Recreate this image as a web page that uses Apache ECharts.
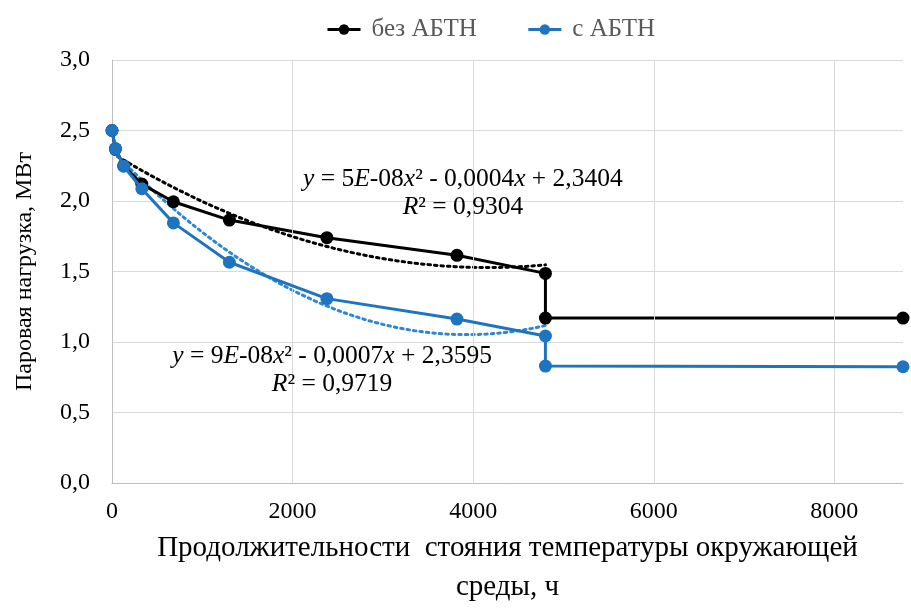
<!DOCTYPE html>
<html>
<head>
<meta charset="utf-8">
<script src="https://cdn.jsdelivr.net/npm/echarts@6/dist/echarts.min.js"></script>
<style>
html,body{margin:0;padding:0;background:#fff;}
#chart{width:911px;height:612px;}
</style>
</head>
<body>
<div id="chart"></div>
<script>
// ---- data ----
const seriesNames = ['без АБТН', 'с АБТН'];
const hoursBlack = [0, 38, 130, 330, 680, 1300, 2380, 3820, 4800, 4800, 8760];
const loadBlack  = [2.50, 2.37, 2.25, 2.12, 1.995, 1.865, 1.74, 1.615, 1.487, 1.17, 1.17];
const hoursBlue  = [0, 38, 130, 330, 680, 1300, 2380, 3820, 4800, 4800, 8760];
const loadBlue   = [2.50, 2.37, 2.247, 2.087, 1.845, 1.566, 1.308, 1.163, 1.043, 0.83, 0.825];
const trendFitCount = [9, 9]; // number of leading points used in each trend fit (before the step)
const yTicks = [0, 0.5, 1.0, 1.5, 2.0, 2.5, 3.0];
const xTicks = [0, 2000, 4000, 6000, 8000];
const xMax = 8760;
const eqBlack = ['y = 5E-08x² - 0,0004x + 2,3404', 'R² = 0,9304'];
const eqBlue  = ['y = 9E-08x² - 0,0007x + 2,3595', 'R² = 0,9719'];

// least-squares quadratic fit (as the spreadsheet trendline does)
function quadFit(xs, ys) {
  let S = [0,0,0,0,0], T = [0,0,0];
  for (let i = 0; i < xs.length; i++) {
    let p = 1;
    for (let k = 0; k < 5; k++) { S[k] += p; p *= xs[i]; }
    T[0] += ys[i]; T[1] += ys[i]*xs[i]; T[2] += ys[i]*xs[i]*xs[i];
  }
  const A = [[S[0],S[1],S[2],T[0]],[S[1],S[2],S[3],T[1]],[S[2],S[3],S[4],T[2]]];
  for (let c = 0; c < 3; c++) {
    for (let r = c+1; r < 3; r++) {
      const f = A[r][c]/A[c][c];
      for (let k = c; k < 4; k++) A[r][k] -= f*A[c][k];
    }
  }
  const s = [0,0,0];
  for (let r = 2; r >= 0; r--) {
    let v = A[r][3];
    for (let k = r+1; k < 3; k++) v -= A[r][k]*s[k];
    s[r] = v/A[r][r];
  }
  return s; // a0 + a1 x + a2 x^2
}
function trendData(xs, ys, n) {
  const cx = xs.slice(0, n), cy = ys.slice(0, n);
  const c = quadFit(cx, cy);
  const x0 = 0, x1 = cx[cx.length-1];
  const out = [];
  for (let i = 0; i <= 96; i++) {
    const x = x0 + (x1 - x0)*i/96;
    out.push([x, c[0] + c[1]*x + c[2]*x*x]);
  }
  return out;
}
const zip = (a, b) => a.map((v, i) => [v, b[i]]);

const BLACK = '#000000';
const BLUE = '#1F74C0';
const FONT = '"Liberation Serif", "Times New Roman", serif';
const GRID = '#D9D9D9';

const chart = echarts.init(document.getElementById('chart'), null, {renderer: 'canvas'});
const option = {
  animation: false,
  backgroundColor: '#fff',
  textStyle: {fontFamily: FONT},
  legend: {
    data: seriesNames,
    top: 12,
    left: 321,
    itemWidth: 33,
    itemHeight: 13,
    itemGap: 50,
    lineStyle: {width: 3},
    textStyle: {fontFamily: FONT, fontSize: 25, color: '#595959', padding: [0, 0, 0, 6]}
  },
  grid: {left: 112, right: 8, top: 60, bottom: 114, containLabel: false},
  xAxis: {
    type: 'value', min: 0, max: xMax, interval: 2000,
    name: 'Продолжительности  стояния температуры окружающей\nсреды, ч',
    nameLocation: 'middle', nameGap: 45,
    nameTextStyle: {fontFamily: FONT, fontSize: 29, color: '#000', lineHeight: 39},
    axisLine: {show: true, lineStyle: {color: '#BFBFBF', width: 1}},
    axisTick: {show: false},
    splitLine: {show: false},
    axisLabel: {
      fontFamily: FONT, fontSize: 24, color: '#000', margin: 17,
      formatter: v => (xTicks.indexOf(v) >= 0 ? String(v) : '')
    }
  },
  yAxis: {
    type: 'value', min: 0, max: 3, interval: 0.5,
    name: 'Паровая нагрузка, МВт',
    nameLocation: 'middle', nameGap: 75,
    nameTextStyle: {fontFamily: FONT, fontSize: 24, color: '#000'},
    axisLine: {show: true, lineStyle: {color: '#BFBFBF', width: 1}},
    axisTick: {show: false},
    splitLine: {show: true, lineStyle: {color: GRID, width: 1}},
    axisLabel: {
      fontFamily: FONT, fontSize: 24, color: '#000', margin: 22,
      formatter: v => (yTicks.indexOf(v) >= 0 ? v.toFixed(1).replace('.', ',') : '')
    }
  },
  series: [
    {
      name: 'gridX', type: 'line', data: [], silent: true,
      markLine: {
        silent: true, symbol: 'none', label: {show: false},
        lineStyle: {color: GRID, width: 1, type: 'solid'},
        data: xTicks.filter(v => v > 0).map(v => ({xAxis: v}))
      }
    },
    {
      name: 'trendBlack', type: 'line', data: trendData(hoursBlack, loadBlack, trendFitCount[0]),
      showSymbol: false, symbol: 'none', silent: true, z: 3,
      lineStyle: {color: BLACK, width: 3, type: [2.5, 4], cap: 'round'}
    },
    {
      name: 'trendBlue', type: 'line', data: trendData(hoursBlue, loadBlue, trendFitCount[1]),
      showSymbol: false, symbol: 'none', silent: true, z: 3,
      lineStyle: {color: '#2E86D6', width: 3, type: [2.5, 4], cap: 'round'}
    },
    {
      name: seriesNames[0], type: 'line', data: zip(hoursBlack, loadBlack),
      symbol: 'circle', symbolSize: 13, z: 4,
      itemStyle: {color: BLACK},
      lineStyle: {color: BLACK, width: 3}
    },
    {
      name: seriesNames[1], type: 'line', data: zip(hoursBlue, loadBlue),
      symbol: 'circle', symbolSize: 13, z: 5,
      itemStyle: {color: BLUE},
      lineStyle: {color: BLUE, width: 3}
    }
  ]
};
chart.setOption(option);

// equation labels anchored in data coordinates
function eqText(lines) {
  const fmt = s => s.replace(/y/g, '{i|y}').replace(/E/g, '{i|E}').replace(/x/g, '{i|x}').replace(/R/g, '{i|R}');
  return fmt(lines[0]) + '\n' + fmt(lines[1]);
}
const EQ_SIZE = 25.5, EQ_LH = 28;
const pB = chart.convertToPixel({gridIndex: 0}, [3886, 1.857]);
const pL = chart.convertToPixel({gridIndex: 0}, [2437, 0.598]);
const rich = {i: {fontStyle: 'italic', fontFamily: FONT, fontSize: EQ_SIZE, color: '#000', lineHeight: EQ_LH}};
chart.setOption({
  graphic: [
    {type: 'text', x: pB[0], y: pB[1], z: 10, style: {
      text: eqText(eqBlack), fontFamily: FONT, fontSize: EQ_SIZE, fill: '#000',
      align: 'center', verticalAlign: 'bottom', lineHeight: EQ_LH, rich: rich}},
    {type: 'text', x: pL[0], y: pL[1], z: 10, style: {
      text: eqText(eqBlue), fontFamily: FONT, fontSize: EQ_SIZE, fill: '#000',
      align: 'center', verticalAlign: 'bottom', lineHeight: EQ_LH, rich: rich}}
  ]
});
</script>
</body>
</html>
